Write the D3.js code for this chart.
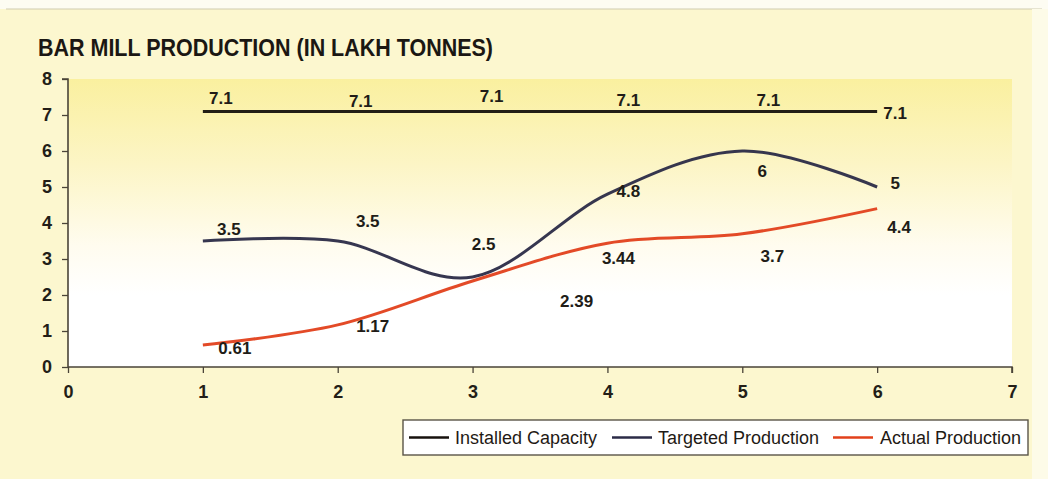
<!DOCTYPE html>
<html>
<head>
<meta charset="utf-8">
<script src="https://cdn.jsdelivr.net/npm/d3@7"></script>
<style>
  html, body { margin: 0; padding: 0; background: #fcf7cf; }
  svg { display: block; }
</style>
</head>
<body>
<svg id="chart" width="1048" height="479"></svg>
<script>
// Years / periods along the horizontal axis
const periods = [1, 2, 3, 4, 5, 6];
const seriesNames = ["Installed Capacity", "Targeted Production", "Actual Production"];
const installedCapacity = [7.1, 7.1, 7.1, 7.1, 7.1, 7.1];
const targetedProduction = [3.5, 3.5, 2.5, 4.8, 6, 5];
const actualProduction = [0.61, 1.17, 2.39, 3.44, 3.7, 4.4];
const xTicks = [0, 1, 2, 3, 4, 5, 6, 7];
const yTicks = [0, 1, 2, 3, 4, 5, 6, 7, 8];

// Label placement (pixel nudges relative to each point)
const installedLabelShift = [[18, -13], [23, -10], [19, -15], [21, -11], [26, -11], [18, 2]];
const targetedLabelShift = [[26, -12], [30, -20], [11, -33], [21, -3], [20, 20], [18, -4]];
const actualLabelShift = [[32, 3], [35, 1], [104, 20], [11, 15], [30, 22], [22, 18]];

const colors = ["#17120e", "#2b2b47", "#e2401b"];

const svg = d3.select("#chart");
const W = 1048, H = 479;
const m = { left: 68, right: 36, top: 79, bottom: 112 };

const defs = svg.append("defs");
const bgGrad = defs.append("linearGradient").attr("id", "plotBg")
  .attr("x1", 0).attr("y1", 0).attr("x2", 0).attr("y2", 1);
bgGrad.append("stop").attr("offset", "0%").attr("stop-color", "#faf09f");
bgGrad.append("stop").attr("offset", "30%").attr("stop-color", "#fcf5c6");
bgGrad.append("stop").attr("offset", "58%").attr("stop-color", "#fffcef");
bgGrad.append("stop").attr("offset", "75%").attr("stop-color", "#ffffff");
bgGrad.append("stop").attr("offset", "100%").attr("stop-color", "#ffffff");

// page background
svg.append("rect").attr("width", W).attr("height", H).attr("fill", "#fcf7cf");
svg.append("rect").attr("width", W).attr("height", 9).attr("fill", "#fdfcf2");
svg.append("line").attr("x1", 6).attr("x2", W - 6).attr("y1", 9).attr("y2", 9)
  .attr("stroke", "#cfcbb0").attr("stroke-width", 1.2);
svg.append("rect").attr("x", 1032).attr("y", 9).attr("width", 16).attr("height", H - 9).attr("fill", "#fdfbe8");

const x = d3.scaleLinear().domain([0, 7]).range([m.left, W - m.right]);
const y = d3.scaleLinear().domain([0, 8]).range([H - m.bottom, m.top]);

// plot area
svg.append("rect")
  .attr("x", x(0)).attr("y", y(8))
  .attr("width", x(7) - x(0)).attr("height", y(0) - y(8))
  .attr("fill", "url(#plotBg)");

const font = "'Liberation Sans Narrow', 'Arial Narrow', 'Liberation Sans', sans-serif";

// title
svg.append("text")
  .attr("x", 38).attr("y", 56)
  .attr("font-family", font).attr("font-weight", "bold")
  .attr("font-size", 23).attr("fill", "#1b1713")
  .attr("textLength", 455).attr("lengthAdjust", "spacingAndGlyphs")
  .text("BAR MILL PRODUCTION (IN LAKH TONNES)");

// axes
const yAxis = svg.append("g")
  .attr("transform", `translate(${x(0)},0)`)
  .call(d3.axisLeft(y).tickValues(yTicks).tickFormat(d3.format("d")).tickSize(6).tickPadding(10));
const xAxis = svg.append("g")
  .attr("transform", `translate(0,${y(0)})`)
  .call(d3.axisBottom(x).tickValues(xTicks).tickFormat(d3.format("d")).tickSize(6).tickPadding(12));

[yAxis, xAxis].forEach(g => {
  g.select(".domain").attr("stroke", "#4a4438").attr("stroke-width", 1.6);
  g.selectAll(".tick line").attr("stroke", "#4a4438").attr("stroke-width", 1.3);
  g.selectAll(".tick text")
    .attr("font-family", font).attr("font-weight", "bold")
    .attr("font-size", 18).attr("fill", "#231e18");
});
yAxis.select(".domain").attr("d", `M-6,${y(8)}H0V${y(0)}`);
xAxis.select(".domain").attr("d", `M${x(0)},0H${x(7)}V6`);

// series
const series = [installedCapacity, targetedProduction, actualProduction];
const shifts = [installedLabelShift, targetedLabelShift, actualLabelShift];

const line = d3.line()
  .x((d, i) => x(periods[i]))
  .y(d => y(d))
  .curve(d3.curveCardinal.tension(0));

series.forEach((vals, s) => {
  svg.append("path")
    .datum(vals)
    .attr("d", line)
    .attr("fill", "none")
    .attr("stroke", colors[s])
    .attr("stroke-width", 3)
    .attr("stroke-linecap", "butt")
    .attr("opacity", 0.95);
});

series.forEach((vals, s) => {
  svg.append("g").selectAll("text")
    .data(vals)
    .join("text")
    .attr("x", (d, i) => x(periods[i]) + shifts[s][i][0])
    .attr("y", (d, i) => y(d) + shifts[s][i][1])
    .attr("dy", "0.35em")
    .attr("text-anchor", "middle")
    .attr("font-family", font).attr("font-weight", "bold")
    .attr("font-size", 17).attr("fill", "#211c17")
    .text(d => d);
});

// legend
const lg = svg.append("g").attr("transform", "translate(403,420)");
lg.append("rect").attr("width", 625).attr("height", 35)
  .attr("fill", "#ffffff").attr("stroke", "#5a5448").attr("stroke-width", 1.4);
const legendX = [[6, 52], [209, 255], [430, 477]];
seriesNames.forEach((name, i) => {
  lg.append("line")
    .attr("x1", legendX[i][0]).attr("x2", legendX[i][0] + 40)
    .attr("y1", 17.5).attr("y2", 17.5)
    .attr("stroke", colors[i]).attr("stroke-width", 2.6);
  lg.append("text")
    .attr("x", legendX[i][1]).attr("y", 17.5).attr("dy", "0.35em")
    .attr("font-family", font).attr("font-size", 18).attr("fill", "#1f1a15")
    .text(name);
});
</script>
</body>
</html>
